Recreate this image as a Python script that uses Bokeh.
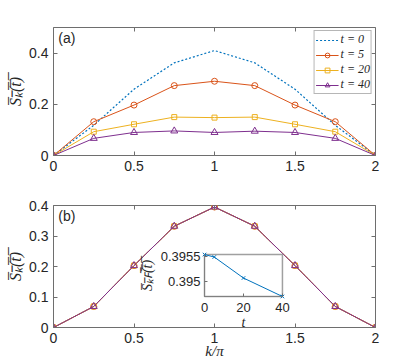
from bokeh.plotting import figure
from bokeh.layouts import column
from bokeh.models import (Range1d, LinearAxis, FixedTicker, CustomJSTickFormatter,
                          Legend, LegendItem, Label, CustomLabelingPolicy)
from bokeh.embed import file_html
from bokeh.resources import INLINE

# ---------------- data ----------------
k_over_pi = [0, 0.25, 0.5, 0.75, 1.0, 1.25, 1.5, 1.75, 2.0]
S_t0 = [0, 0.118, 0.259, 0.362, 0.410, 0.362, 0.259, 0.118, 0]
S_t5 = [0, 0.132, 0.197, 0.273, 0.290, 0.273, 0.197, 0.132, 0]
S_t20 = [0, 0.093, 0.122, 0.150, 0.148, 0.150, 0.122, 0.093, 0]
S_t40 = [0, 0.067, 0.090, 0.096, 0.090, 0.095, 0.090, 0.067, 0]
S_long = [0, 0.069, 0.203, 0.332, 0.395, 0.332, 0.203, 0.069, 0]
legend_labels = ["t = 0", "t = 5", "t = 20", "t = 40"]

x_ticks = [0, 0.5, 1, 1.5, 2]
y_ticks_a = [0, 0.2, 0.4]
y_ticks_b = [0, 0.1, 0.2, 0.3, 0.4]

inset_t = [0, 5, 20, 40]
inset_S = [0.39554, 0.39549, 0.39507, 0.39470]
inset_t_ticks = [0, 20, 40]
inset_S_ticks = [0.395, 0.3955]
inset_t_lim = (0, 40)
inset_S_lim = (0.39470, 0.39554)

# ---------------- style ----------------
BLUE, RED, YEL, PUR = "#0072BD", "#D95319", "#EDB120", "#7E2F8E"
SANS, SERIF = "Liberation Sans", "Liberation Serif"
TXT, FRAME = "#262626", "#6e6e6e"
YLABEL = "S\u0305\u2096\u0305(\u0305t\u0305)\u0305"
YLABEL_IN = "S\u0305\u2096\u0305\ua730\u0305(\u0305t\u0305)\u0305"


def style_axis(ax, ticks, labels=True, size="14px"):
    ax.ticker = FixedTicker(ticks=ticks)
    ax.formatter = CustomJSTickFormatter(code="return String(Math.round(tick*1e6)/1e6);")
    ax.major_tick_in = 4
    ax.major_tick_out = 0
    ax.major_tick_line_color = FRAME
    ax.minor_tick_line_color = None
    ax.axis_line_color = None
    ax.major_label_text_font = SANS
    ax.major_label_text_font_size = size if labels else "1px"
    ax.major_label_text_color = TXT
    ax.major_label_standoff = 5 if labels else 0
    if not labels:
        ax.major_label_policy = CustomLabelingPolicy(
            code="for (const i of Array.from(indices.ones())) indices.unset(i); return indices;")
    ax.axis_label_text_font = SERIF
    ax.axis_label_text_font_style = "italic"
    ax.axis_label_text_font_size = "16px"
    ax.axis_label_text_color = TXT


def make_fig(yr, yt, height, top, bottom):
    p = figure(width=400, height=height, x_range=Range1d(0, 2), y_range=yr,
               output_backend="svg", toolbar_location=None,
               min_border_left=53, min_border_right=25,
               min_border_top=top, min_border_bottom=bottom)
    p.grid.visible = False
    p.outline_line_color = FRAME
    p.outline_line_width = 1
    xa = p.below[0]
    ya = p.left[0]
    style_axis(xa, x_ticks)
    style_axis(ya, yt)
    ya.axis_label = YLABEL
    ya.axis_label_standoff = 2
    ra = LinearAxis()
    style_axis(ra, yt, labels=False)
    p.add_layout(ra, "right")
    ta = LinearAxis()
    style_axis(ta, x_ticks, labels=False)
    p.add_layout(ta, "above")
    return p, xa


# ---------------- panel (a) ----------------
pa, xa_a = make_fig(Range1d(0, 0.5), y_ticks_a, 178, 27, 23)
r0 = pa.line(k_over_pi, S_t0, line_color=BLUE, line_width=1.2, line_dash="2 2")
l5 = pa.line(k_over_pi, S_t5, line_color=RED, line_width=1)
m5 = pa.scatter(k_over_pi, S_t5, marker="circle", size=6, fill_color=None, line_color=RED)
l20 = pa.line(k_over_pi, S_t20, line_color=YEL, line_width=1)
m20 = pa.scatter(k_over_pi, S_t20, marker="square", size=5, fill_color=None, line_color=YEL)
l40 = pa.line(k_over_pi, S_t40, line_color=PUR, line_width=1)
m40 = pa.scatter(k_over_pi, S_t40, marker="triangle", size=7, fill_color=None, line_color=PUR)

legend = Legend(items=[LegendItem(label=legend_labels[0], renderers=[r0]),
                       LegendItem(label=legend_labels[1], renderers=[l5, m5]),
                       LegendItem(label=legend_labels[2], renderers=[l20, m20]),
                       LegendItem(label=legend_labels[3], renderers=[l40, m40])],
                location="top_right")
legend.label_text_font = SERIF
legend.label_text_font_style = "italic"
legend.label_text_font_size = "12px"
legend.label_text_color = TXT
legend.glyph_width = 23
legend.glyph_height = 12
legend.label_height = 12
legend.label_standoff = 2
legend.spacing = 0
legend.padding = 1
legend.margin = 3
legend.border_line_color = FRAME
legend.border_line_width = 1
pa.add_layout(legend)
pa.add_layout(Label(x=0.03, y=0.492, text="(a)", text_baseline="top",
                    text_font=SANS, text_font_size="14px", text_color=TXT))

# ---------------- panel (b) ----------------
pb, xa_b = make_fig(Range1d(0, 0.4), y_ticks_b, 183, 27, 34)
xa_b.axis_label = "k/\u03c0"
xa_b.axis_label_standoff = -3
xa_b.axis_label_text_font_size = "15px"
pb.line(k_over_pi, S_long, line_color=BLUE, line_width=1, line_dash="2 2")
pb.line(k_over_pi, S_long, line_color=RED, line_width=1)
pb.scatter(k_over_pi, S_long, marker="circle", size=6, fill_color=None, line_color=RED)
pb.line(k_over_pi, S_long, line_color=YEL, line_width=1)
pb.scatter(k_over_pi, S_long, marker="square", size=5, fill_color=None, line_color=YEL)
pb.line(k_over_pi, S_long, line_color=PUR, line_width=1)
pb.scatter(k_over_pi, S_long, marker="triangle", size=7, fill_color=None, line_color=PUR)
pb.add_layout(Label(x=0.03, y=0.393, text="(b)", text_baseline="top",
                    text_font=SANS, text_font_size="14px", text_color=TXT))

# inset: placed through extra ranges (fractions of the frame it occupies)
fx0, fx1 = 0.469, 0.711
fy0, fy1 = 0.254, 0.598


def outer(lim, f0, f1):
    span = (lim[1] - lim[0]) / (f1 - f0)
    start = lim[0] - f0 * span
    return Range1d(start, start + span)


pb.extra_x_ranges = {"t": outer(inset_t_lim, fx0, fx1)}
pb.extra_y_ranges = {"s": outer(inset_S_lim, fy0, fy1)}
pb.quad(left=[inset_t_lim[0]], right=[inset_t_lim[1]], bottom=[inset_S_lim[0]], top=[inset_S_lim[1]],
        fill_color="white", line_color="#a0a0a0", line_width=1.5,
        x_range_name="t", y_range_name="s")
pb.line(inset_t, inset_S, line_color=BLUE, line_width=1, x_range_name="t", y_range_name="s")
pb.scatter(inset_t, inset_S, marker="x", size=5, line_color=BLUE, x_range_name="t", y_range_name="s")

ix = LinearAxis(x_range_name="t", y_range_name="s", fixed_location=inset_S_lim[0], bounds=inset_t_lim)
style_axis(ix, inset_t_ticks, size="13px")
ix.major_tick_in = 3
ix.major_label_standoff = 6
ix.axis_line_color = "#808080"
ix.axis_label = "t"
ix.axis_label_standoff = 0
ix.axis_label_text_font_size = "14px"
pb.add_layout(ix, "below")

iy = LinearAxis(x_range_name="t", y_range_name="s", fixed_location=inset_t_lim[0], bounds=inset_S_lim)
style_axis(iy, inset_S_ticks, size="13px")
iy.major_tick_in = 3
iy.major_label_standoff = 4
iy.axis_line_color = "#808080"
iy.axis_label = YLABEL_IN
iy.axis_label_standoff = 3
iy.axis_label_text_font_size = "14px"
pb.add_layout(iy, "left")

layout = column(pa, pb, spacing=0)
open("out.html", "w").write(file_html(layout, INLINE))
